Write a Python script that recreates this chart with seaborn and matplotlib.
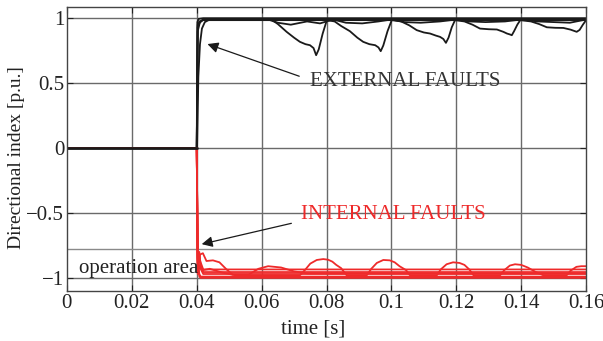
import numpy as np
import pandas as pd
import matplotlib
matplotlib.use("Agg")
import matplotlib.pyplot as plt
import seaborn as sns

# ---- data ----
# external faults (black) : time [s] / directional index [p.u.]
ext_flat_t = [0, 0.0400, 0.0402, 0.0406, 0.0420, 0.1600]
ext_flat_y = [0, 0, 0.97, 0.995, 1.0, 1.0]

ext_flat2_t = [0, 0.0400, 0.0403, 0.0408, 0.0420, 0.1600]
ext_flat2_y = [0, 0, 0.93, 0.975, 0.985, 0.985]

ext_slow_t = [0, 0.0401, 0.0405, 0.0410, 0.0416, 0.0425, 0.0440, 0.1600]
ext_slow_y = [0, 0, 0.55, 0.80, 0.92, 0.97, 0.99, 0.99]

ext_dip_t = [0, 0.0400, 0.0403, 0.0410, 0.0420, 0.0630, 0.0650, 0.0677, 0.0700, 0.0718,
             0.0735, 0.0749, 0.0760, 0.0768, 0.0776, 0.0788, 0.0801,
             0.0825, 0.0845, 0.0872, 0.0895, 0.0913, 0.0932, 0.0950, 0.0960, 0.0967,
             0.0975, 0.0988, 0.1001,
             0.1030, 0.1055, 0.1078, 0.1100, 0.1119, 0.1137, 0.1150, 0.1160, 0.1168,
             0.1176, 0.1186, 0.1196,
             0.1225, 0.1250, 0.1273, 0.1300, 0.1325, 0.1345, 0.1356, 0.1365, 0.1371,
             0.1378, 0.1388, 0.1397,
             0.1430, 0.1455, 0.1479, 0.1505, 0.1530, 0.1552, 0.1571, 0.1580, 0.1590, 0.1600]
ext_dip_y = [0, 0, 0.90, 0.97, 0.99, 0.99, 0.955, 0.895, 0.85, 0.818,
             0.80, 0.792, 0.77, 0.715, 0.76, 0.88, 0.985,
             0.975, 0.94, 0.90, 0.85, 0.818, 0.80, 0.792, 0.775, 0.746,
             0.79, 0.90, 0.985,
             0.975, 0.945, 0.908, 0.89, 0.882, 0.866, 0.856, 0.84, 0.81,
             0.85, 0.93, 0.985,
             0.975, 0.95, 0.92, 0.915, 0.913, 0.895, 0.882, 0.875, 0.869,
             0.90, 0.95, 0.985,
             0.975, 0.955, 0.93, 0.926, 0.925, 0.912, 0.895, 0.91, 0.95, 0.985]

ext_small_t = [0, 0.0400, 0.0403, 0.0420, 0.0620, 0.0650, 0.0690, 0.0740, 0.0780,
               0.0820, 0.0860, 0.0910, 0.0960, 0.1000, 0.1040, 0.1090, 0.1150,
               0.1200, 0.1240, 0.1290, 0.1350, 0.1400, 0.1450, 0.1500, 0.1550, 0.1600]
ext_small_y = [0, 0, 0.95, 0.99, 0.99, 0.965, 0.95, 0.975, 0.96,
               0.99, 0.965, 0.96, 0.975, 0.99, 0.97, 0.965, 0.975,
               0.99, 0.975, 0.97, 0.975, 0.99, 0.975, 0.97, 0.965, 0.99]

# internal faults (red)
int_base_t = [0, 0.0400, 0.0403, 0.0408, 0.0412, 0.0420, 0.1600]
int_base1_y = [0, 0, -0.90, -0.99, -1.0, -1.0, -1.0]
int_base2_y = [0, 0, -0.88, -0.97, -0.99, -0.99, -0.99]
int_base3_y = [0, 0, -0.85, -0.80, -0.93, -0.97, -0.97]
int_base4_y = [0, 0, -0.86, -0.82, -0.90, -0.955, -0.955]
int_base5_y = [0, 0, -0.87, -0.84, -0.88, -0.935, -0.935]

int_early_t = [0, 0.0400, 0.0403, 0.0410, 0.0419, 0.0430, 0.0450, 0.0470, 0.0490,
               0.0510, 0.0560, 0.0590, 0.0620, 0.0660, 0.0700, 0.0740, 0.1600]
int_early_y = [0, 0, -0.95, -0.82, -0.81, -0.87, -0.865, -0.88, -0.93,
               -0.975, -0.975, -0.93, -0.91, -0.92, -0.95, -0.965, -0.965]

int_bump_t = [0, 0.0400, 0.0403, 0.0410, 0.0420, 0.0440, 0.0480, 0.0520, 0.0718,
              0.0735, 0.0750, 0.0770, 0.0790, 0.0805, 0.0818, 0.0830, 0.0845, 0.0862,
              0.0924, 0.0938, 0.0955, 0.0975, 0.0995, 0.1010, 0.1025, 0.1045, 0.1057,
              0.1140, 0.1152, 0.1170, 0.1190, 0.1210, 0.1225, 0.1240, 0.1253,
              0.1335, 0.1348, 0.1365, 0.1381, 0.1400, 0.1420, 0.1445, 0.1468,
              0.1540, 0.1552, 0.1570, 0.1585, 0.1600]
int_bump_y = [0, 0, -0.97, -0.90, -0.94, -0.93, -0.96, -0.98, -0.98,
              -0.935, -0.89, -0.862, -0.855, -0.86, -0.875, -0.90, -0.925, -0.98,
              -0.98, -0.93, -0.885, -0.862, -0.865, -0.88, -0.91, -0.94, -0.98,
              -0.98, -0.935, -0.895, -0.88, -0.885, -0.90, -0.935, -0.98,
              -0.98, -0.94, -0.905, -0.895, -0.90, -0.92, -0.955, -0.98,
              -0.98, -0.945, -0.915, -0.91, -0.91]

x_ticks = [0, 0.02, 0.04, 0.06, 0.08, 0.1, 0.12, 0.14, 0.16]
x_labels = ["0", "0.02", "0.04", "0.06", "0.08", "0.1", "0.12", "0.14", "0.16"]
y_ticks = [-1, -0.5, 0, 0.5, 1]
y_labels = ["\u22121", "\u22120.5", "0", "0.5", "1"]
operation_limit = -0.78

sns.set_style("ticks")
plt.rcParams['font.family'] = ['Liberation Serif', 'DejaVu Serif']

fig = plt.figure(figsize=(6.03, 3.41), dpi=100)
ax = fig.add_axes([0.111, 0.147, 0.861, 0.832])

grid_col = "#6a6a6a"
for xv in x_ticks[1:-1]:
    ax.axvline(xv, color=grid_col, lw=1.0, zorder=0)
for yv in y_ticks:
    ax.axhline(yv, color=grid_col, lw=1.0, zorder=0)
ax.axhline(operation_limit, color="#8a8a8a", lw=1.0, zorder=0)

black = "#1a1a1a"
ext_curves = [(ext_flat_t, ext_flat_y), (ext_flat2_t, ext_flat2_y), (ext_slow_t, ext_slow_y),
              (ext_dip_t, ext_dip_y), (ext_small_t, ext_small_y)]
for t, y in ext_curves:
    sns.lineplot(x=t, y=y, color=black, lw=1.3, estimator=None, sort=False, ax=ax)

red = "#ee2a2a"
int_curves = [(int_base_t, int_base1_y), (int_base_t, int_base2_y), (int_base_t, int_base3_y),
              (int_base_t, int_base4_y), (int_base_t, int_base5_y),
              (int_early_t, int_early_y), (int_bump_t, int_bump_y)]
for t, y in int_curves:
    sns.lineplot(x=t, y=y, color=red, lw=1.3, estimator=None, sort=False, ax=ax)

# thick zero line before the fault
ax.plot([0, 0.0401], [0, 0], color=black, lw=2.0)

ax.annotate("", xy=(0.0425, 0.808), xytext=(0.0724, 0.546),
            arrowprops=dict(arrowstyle="-|>", color=black, lw=0.9, mutation_scale=16))
ax.text(0.0748, 0.51, "EXTERNAL FAULTS", color="#333333", fontsize=15, va="center", ha="left")

ax.annotate("", xy=(0.0407, -0.745), xytext=(0.0700, -0.575),
            arrowprops=dict(arrowstyle="-|>", color=black, lw=0.9, mutation_scale=16))
ax.text(0.0722, -0.515, "INTERNAL FAULTS", color=red, fontsize=15, va="center", ha="left")

ax.text(0.0037, -0.925, "operation area", color="#222222", fontsize=15, va="center", ha="left")

ax.set_xlim(0, 0.16)
ax.set_ylim(-1.1, 1.085)
ax.set_xticks(x_ticks)
ax.set_xticklabels(x_labels)
ax.set_yticks(y_ticks)
ax.set_yticklabels(y_labels)
ax.tick_params(direction="in", length=4, labelsize=15, colors="#222222", pad=2,
               top=True, right=True)
for s in ax.spines.values():
    s.set_color("#444444")
    s.set_linewidth(1.0)
ax.set_xlabel("time [s]", fontsize=15, color="#222222")
ax.xaxis.set_label_coords(0.475, -0.1)
ax.set_ylabel("Directional index [p.u.]", fontsize=14, color="#222222")
ax.yaxis.set_label_coords(-0.08, 0.47)

fig.savefig("out.png", dpi=100)
